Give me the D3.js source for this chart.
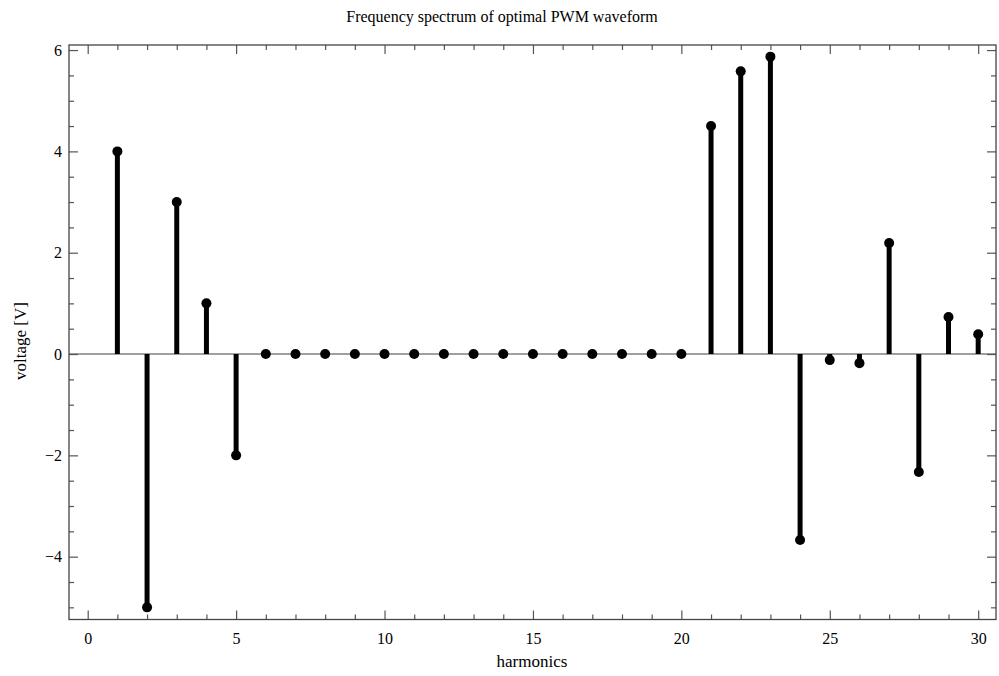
<!DOCTYPE html>
<html><head><meta charset="utf-8">
<script src="https://cdn.jsdelivr.net/npm/d3@7"></script>
<style>body{margin:0;background:#fff}svg{display:block}text{font-family:"Liberation Serif","Times New Roman",serif;fill:#000}</style>
</head><body><svg id="c" width="999" height="676"></svg>
<script>
const harmonics = [1,2,3,4,5,6,7,8,9,10,11,12,13,14,15,16,17,18,19,20,21,22,23,24,25,26,27,28,29,30];
const voltage = [4,-5,3,1,-2,0,0,0,0,0,0,0,0,0,0,0,0,0,0,0,4.5,5.58,5.87,-3.67,-0.12,-0.18,2.19,-2.33,0.73,0.39];
const xTicks = [0,5,10,15,20,25,30];
const yTicks = [-4,-2,0,2,4,6];
const title = "Frequency spectrum of optimal PWM waveform";
const xLabel = "harmonics", yLabel = "voltage [V]";

const svg = d3.select("#c");
const L=69, R=996, T=45, B=619.5;
const x = d3.scaleLinear().domain([-0.63,30.6]).range([L,R]);
const y = d3.scaleLinear().domain([-5.24,6.1]).range([B,T]);
const data = harmonics.map((h,i)=>({h, v:voltage[i]}));

// zero line
svg.append("line").attr("x1",L).attr("x2",R).attr("y1",y(0)).attr("y2",y(0))
  .attr("stroke","#808080").attr("stroke-width",1.5);

// stems
svg.append("g").selectAll("line").data(data).join("line")
  .attr("x1",d=>x(d.h)).attr("x2",d=>x(d.h))
  .attr("y1",y(0)).attr("y2",d=>y(d.v))
  .attr("stroke","#000").attr("stroke-width",5);
svg.append("g").selectAll("circle").data(data).join("circle")
  .attr("cx",d=>x(d.h)).attr("cy",d=>y(d.v)).attr("r",5).attr("fill","#000");

// axes
const xMinor = d3.range(0,31,1).filter(v=>!xTicks.includes(v));
const yMinor = d3.range(-5,6.01,0.5).filter(v=>!yTicks.includes(v));
function ax(gen, pos, scale, major, minor, labels){
  const g1 = svg.append("g").attr("transform",pos).call(gen(scale).tickValues(major).tickSize(9).tickFormat(labels? (d=>d<0?"\u2212"+Math.abs(d):d):""));
  const g2 = svg.append("g").attr("transform",pos).call(gen(scale).tickValues(minor).tickSize(5).tickFormat(""));
  [g1,g2].forEach(g=>{g.select(".domain").remove();g.selectAll("line").attr("stroke","#555").attr("stroke-width",1.2);
    g.selectAll("text").attr("font-size",16).attr("font-family","Liberation Serif").attr("fill","#000");});
  return g1;
}
const gb = ax(d3.axisTop, `translate(0,${B})`, x, xTicks, xMinor, true);
gb.selectAll("text").attr("y",0).attr("dy",0).attr("transform","translate(0,24)");
ax(d3.axisBottom, `translate(0,${T})`, x, xTicks, xMinor, false);
const gl = ax(d3.axisRight, `translate(${L},0)`, y, yTicks, yMinor, true);
gl.selectAll("text").attr("x",-7).attr("text-anchor","end").attr("dy","0.33em");
ax(d3.axisLeft, `translate(${R},0)`, y, yTicks, yMinor, false);

// frame
svg.append("rect").attr("x",L).attr("y",T).attr("width",R-L).attr("height",B-T)
  .attr("fill","none").attr("stroke","#444").attr("stroke-width",1.3);

svg.append("text").attr("x",502).attr("y",22).attr("text-anchor","middle").attr("font-size",16).text(title);
svg.append("text").attr("x",532).attr("y",667).attr("text-anchor","middle").attr("font-size",17).text(xLabel);
svg.append("text").attr("transform",`translate(26,341) rotate(-90)`).attr("text-anchor","middle").attr("font-size",17).text(yLabel);
</script></body></html>
